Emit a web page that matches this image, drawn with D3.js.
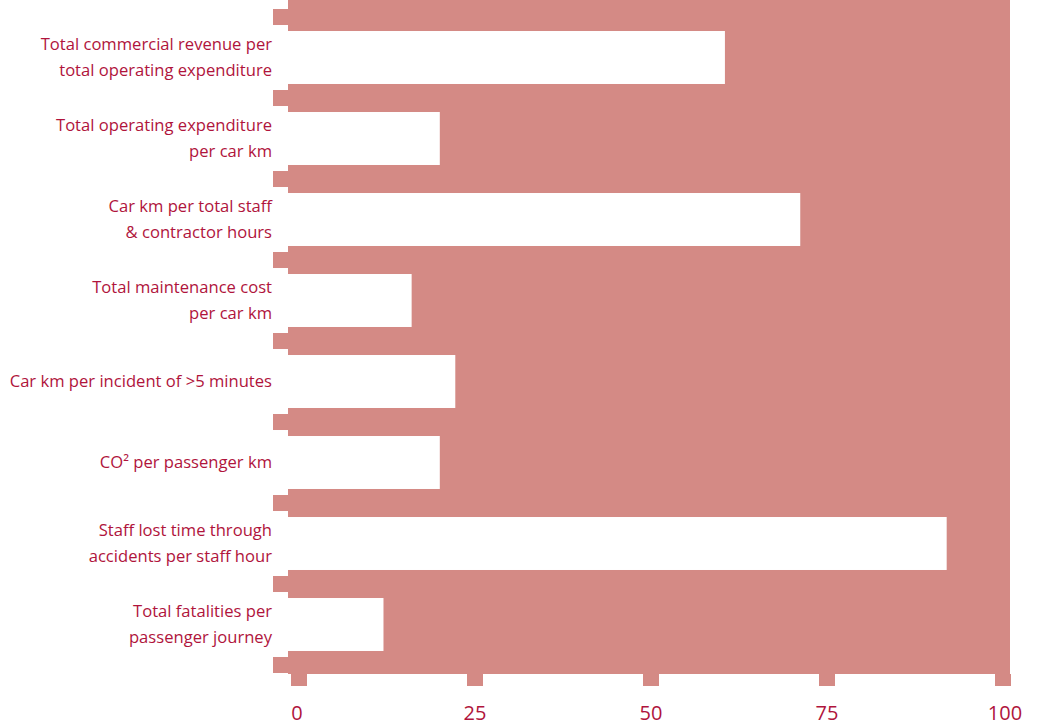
<!DOCTYPE html>
<html>
<head>
<meta charset="utf-8">
<script src="https://cdn.jsdelivr.net/npm/d3@7"></script>
<style>
  body { margin: 0; background: #fff; }
  text { font-family: "Open Sans", sans-serif; fill: #b0143c; }
</style>
</head>
<body>
<div id="chart_container"></div>
<script>
// labels, one array of lines per bar
var categories = [
  ["Total commercial revenue per", "total operating expenditure"],
  ["Total operating expenditure", "per car km"],
  ["Car km per total staff", "& contractor hours"],
  ["Total maintenance cost", "per car km"],
  ["Car km per incident of >5 minutes"],
  ["CO\u00B2 per passenger km"],
  ["Staff lost time through", "accidents per staff hour"],
  ["Total fatalities per", "passenger journey"]
];
var values = [60.5, 20, 71.2, 16, 22.2, 20, 92, 12];
var tickValues = [0, 25, 50, 75, 100];

var width = 1043,
    height = 727;
var pink = "#d48a85";

var svg = d3.select("#chart_container").append("svg")
    .attr("width", width)
    .attr("height", height);

var x = d3.scaleLinear().domain([0, 100]).range([299, 1003]);
var y = d3.scaleBand()
    .domain(d3.range(categories.length))
    .range([17, 665])
    .paddingInner(0.346)
    .paddingOuter(0.173);

var plotLeft = 288, plotRight = 1010, plotTop = 0, plotBottom = 674;

// pink background panel
svg.append("rect")
    .attr("x", plotLeft).attr("y", plotTop)
    .attr("width", plotRight - plotLeft)
    .attr("height", plotBottom - plotTop)
    .attr("fill", pink);

// left notches in the gaps between bars
var gaps = d3.range(categories.length + 1).map(function(i) {
  return i < categories.length ? y(i) - 22 : y(i - 1) + y.bandwidth() + 6;
});
svg.selectAll(".notch")
  .data(gaps)
  .enter().append("rect")
    .attr("class", "notch")
    .attr("x", 273).attr("y", d => d)
    .attr("width", plotLeft - 273)
    .attr("height", 16)
    .attr("fill", pink);

// white bars
svg.selectAll(".bar")
  .data(values)
  .enter().append("rect")
    .attr("class", "bar")
    .attr("x", plotLeft)
    .attr("y", (d, i) => y(i))
    .attr("width", d => x(d) - plotLeft)
    .attr("height", y.bandwidth())
    .attr("fill", "#fff");

// category labels
var labels = svg.selectAll(".label")
  .data(categories)
  .enter().append("text")
    .attr("class", "label")
    .attr("text-anchor", "end")
    .attr("font-size", "16.6px")
    .attr("transform", (d, i) => "translate(272," + (y(i) + y.bandwidth() / 2) + ")");

labels.each(function(lines) {
  var t = d3.select(this);
  var lh = 26;
  var start = -(lines.length - 1) * lh / 2;
  lines.forEach(function(line, j) {
    t.append("tspan")
      .attr("x", 0)
      .attr("y", start + j * lh)
      .attr("dy", "0.35em")
      .text(line);
  });
});

// x axis ticks (pink blocks) and labels
svg.selectAll(".tick")
  .data(tickValues)
  .enter().append("rect")
    .attr("class", "tick")
    .attr("x", d => x(d) - 8)
    .attr("y", plotBottom)
    .attr("width", 16)
    .attr("height", 12)
    .attr("fill", pink);

svg.selectAll(".tickLabel")
  .data(tickValues)
  .enter().append("text")
    .attr("class", "tickLabel")
    .attr("text-anchor", "middle")
    .attr("font-size", "20px")
    .attr("x", d => x(d) - (d === 0 ? 2 : 0) + (d === 100 ? 2 : 0))
    .attr("y", 713)
    .attr("dy", "0.35em")
    .text(d => d);
</script>
</body>
</html>
